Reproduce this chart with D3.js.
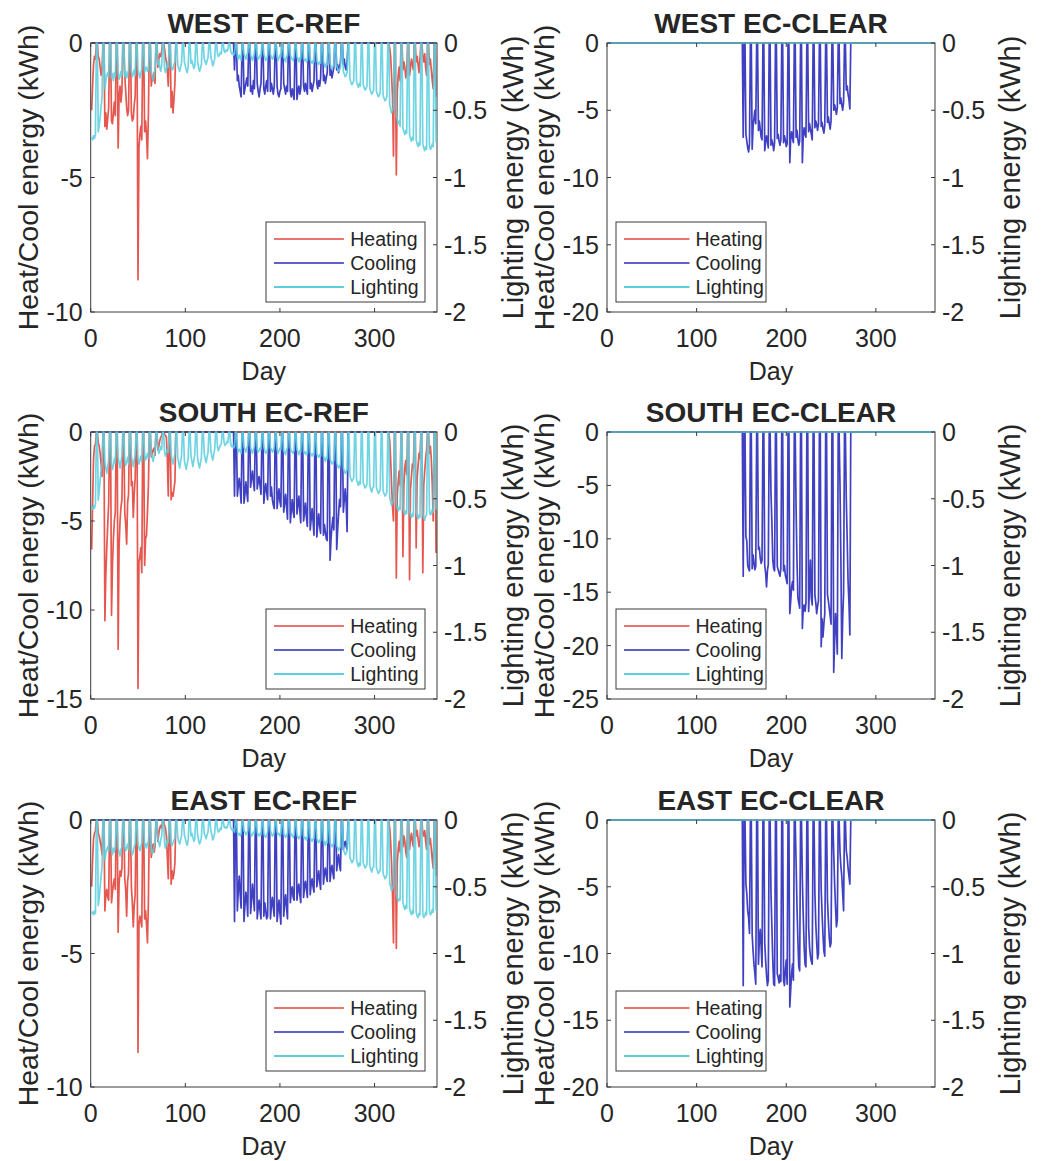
<!DOCTYPE html>
<html><head><meta charset="utf-8">
<script src="https://cdn.jsdelivr.net/npm/d3@7"></script>
<style>
body{margin:0;background:#fff}
svg{display:block}
text{font-family:"Liberation Sans",Arial,Helvetica,sans-serif;fill:#262626}
</style>
</head><body>
<svg id="chart" width="1055" height="1161"></svg>
<script>
// ---------------- DATA (daily values, weekly rows Mon..Sun, weekend = 0) ----------------
const xTicks = [0, 100, 200, 300];
const rightTicks = [0, -0.5, -1, -1.5, -2];
const rightTickLabels = ["0", "-0.5", "-1", "-1.5", "-2"];
const seriesNames = ["Heating", "Cooling", "Lighting"];

// WEST EC-REF
const westRefHeatWinter = [ // days 1-91
-2.5,-1.6,-0.8,-0.5,-0.6,0,0, -0.5,-0.6,-0.9,-1.2,-1.0,0,0, -3.1,-2.6,-3.2,-2.8,-2.4,0,0,
-2.9,-3.0,-2.6,-2.2,-2.7,0,0, -3.9,-2.0,-1.6,-2.2,-1.8,0,0, -1.2,-1.8,-2.4,-2.7,-2.5,0,0,
-2.6,-2.9,-2.8,-2.3,-2.0,0,0, -8.8,-3.9,-3.4,-3.1,-3.6,0,0, -3.3,-2.9,-3.4,-4.3,-2.6,0,0,
-1.6,-1.2,-1.4,-1.1,-1.5,0,0, -0.9,-0.6,-0.4,-0.5,-0.3,0,0, -0.2,-0.5,-0.7,-1.0,-1.6,0,0,
-2.4,-1.8,-2.6,-2.1,-1.5,0,0];
const westRefHeatAutumn = [ // days 316-365
-0.2,-0.5,-1.2,-2.0,-4.2,0,0, -4.9,-1.8,-1.2,-0.9,-1.4,0,0, -1.0,-0.7,-0.9,-1.3,-1.1,0,0,
-1.2,-0.9,-0.6,-0.8,-1.0,0,0, -0.7,-0.5,-0.8,-1.1,-0.6,0,0, -0.5,-0.7,-0.4,-0.9,-1.2,0,0,
-0.8,-0.6,-1.0,-1.4,-1.7,0,0, -2.0];
const westRefCool = [ // days 148-273
0,0,0,0,-1.0,0,0, -1.4,-1.2,-1.6,-1.8,-2.0,0,0, -1.9,-1.7,-1.5,-1.3,-1.6,0,0,
-1.8,-1.6,-1.9,-1.4,-1.7,0,0, -1.5,-1.8,-2.0,-1.7,-1.5,0,0, -1.7,-1.9,-1.6,-1.4,-1.8,0,0,
-1.8,-1.5,-1.7,-1.9,-1.6,0,0, -1.6,-1.9,-2.0,-1.8,-1.7,0,0, -1.5,-1.7,-1.9,-1.6,-1.8,0,0,
-1.8,-2.0,-1.7,-1.9,-2.1,0,0, -2.1,-1.8,-1.6,-1.9,-1.7,0,0, -1.6,-1.8,-1.5,-1.7,-1.9,0,0,
-1.7,-1.5,-1.8,-1.6,-1.4,0,0, -1.5,-1.7,-1.4,-1.6,-1.3,0,0, -1.4,-1.2,-1.5,-1.3,-1.1,0,0,
-1.2,-1.0,-1.3,-1.1,-0.9,0,0, -1.0,-0.8,-1.1,-0.9,-0.7,0,0, -0.8,-0.6,-0.9,-1.0,-0.7,0,0];
const westRefLight = [ // days 1-365 (right axis)
-0.70,-0.72,-0.69,-0.71,-0.68,0,0, -0.66,-0.61,-0.55,-0.47,-0.40,0,0, -0.34,-0.28,-0.24,-0.22,-0.25,0,0,
-0.26,-0.23,-0.28,-0.22,-0.25,0,0, -0.22,-0.27,-0.25,-0.21,-0.24,0,0, -0.25,-0.21,-0.26,-0.23,-0.20,0,0,
-0.21,-0.25,-0.23,-0.20,-0.24,0,0, -0.20,-0.23,-0.26,-0.22,-0.19,0,0, -0.22,-0.19,-0.18,-0.21,-0.20,0,0,
-0.21,-0.25,-0.28,-0.24,-0.19,0,0, -0.16,-0.13,-0.18,-0.21,-0.17,0,0, -0.18,-0.22,-0.20,-0.15,-0.18,0,0,
-0.17,-0.20,-0.19,-0.16,-0.14,0,0, -0.16,-0.19,-0.21,-0.18,-0.15,0,0, -0.14,-0.17,-0.20,-0.22,-0.18,0,0,
-0.15,-0.13,-0.16,-0.19,-0.17,0,0, -0.14,-0.18,-0.21,-0.19,-0.16,0,0, -0.12,-0.14,-0.16,-0.13,-0.11,0,0,
-0.10,-0.13,-0.17,-0.15,-0.12,0,0, -0.08,-0.10,-0.09,-0.07,-0.08,0,0, -0.06,-0.07,-0.05,-0.06,-0.05,0,0,
-0.06,-0.08,-0.07,-0.09,-0.08,0,0, -0.10,-0.12,-0.09,-0.11,-0.13,0,0, -0.08,-0.10,-0.12,-0.09,-0.07,0,0,
-0.09,-0.11,-0.13,-0.10,-0.08,0,0, -0.10,-0.12,-0.11,-0.09,-0.10,0,0, -0.08,-0.11,-0.13,-0.12,-0.09,0,0,
-0.09,-0.10,-0.12,-0.11,-0.08,0,0, -0.10,-0.13,-0.11,-0.09,-0.10,0,0, -0.11,-0.12,-0.14,-0.10,-0.09,0,0,
-0.09,-0.11,-0.12,-0.13,-0.10,0,0, -0.10,-0.12,-0.14,-0.11,-0.12,0,0, -0.11,-0.13,-0.12,-0.14,-0.13,0,0,
-0.12,-0.14,-0.15,-0.13,-0.14,0,0, -0.13,-0.15,-0.16,-0.14,-0.15,0,0, -0.14,-0.16,-0.18,-0.15,-0.16,0,0,
-0.15,-0.17,-0.19,-0.18,-0.16,0,0, -0.17,-0.19,-0.21,-0.20,-0.18,0,0, -0.21,-0.23,-0.25,-0.24,-0.22,0,0,
-0.27,-0.29,-0.31,-0.30,-0.28,0,0, -0.29,-0.31,-0.33,-0.30,-0.32,0,0, -0.31,-0.33,-0.35,-0.34,-0.32,0,0,
-0.34,-0.36,-0.38,-0.37,-0.35,0,0, -0.36,-0.38,-0.40,-0.39,-0.37,0,0, -0.39,-0.41,-0.43,-0.42,-0.40,0,0,
-0.46,-0.49,-0.52,-0.50,-0.48,0,0, -0.54,-0.57,-0.60,-0.58,-0.62,0,0, -0.63,-0.66,-0.68,-0.65,-0.67,0,0,
-0.68,-0.71,-0.73,-0.70,-0.72,0,0, -0.72,-0.75,-0.77,-0.74,-0.76,0,0, -0.75,-0.78,-0.80,-0.77,-0.79,0,0,
-0.76,-0.79,-0.78,-0.75,-0.77,0,0, -0.74];

// SOUTH EC-REF
const southRefHeatWinter = [ // days 1-91
-6.6,-4.0,-1.5,-0.8,-0.7,0,0, -0.6,-0.8,-1.2,-1.8,-2.5,0,0, -10.6,-8.0,-6.5,-5.2,-4.0,0,0,
-10.3,-7.5,-6.0,-5.0,-4.5,0,0, -12.2,-6.5,-5.0,-4.2,-3.8,0,0, -4.5,-5.2,-6.3,-4.0,-3.5,0,0,
-3.0,-2.8,-4.8,-3.5,-2.6,0,0, -14.4,-7.3,-7.0,-6.5,-7.9,0,0, -7.5,-6.0,-5.8,-4.5,-3.0,0,0,
-1.4,-1.2,-1.0,-0.9,-1.3,0,0, -1.0,-0.8,-0.5,-0.3,-0.2,0,0, -0.1,-0.2,-0.3,-1.5,-3.6,0,0,
-3.8,-3.4,-3.6,-3.2,-2.8,0,0];
const southRefHeatAutumn = [ // days 316-365
-0.5,-1.5,-3.0,-4.2,-5.0,0,0, -8.2,-3.5,-2.8,-2.2,-3.0,0,0, -7.0,-3.0,-2.0,-1.6,-2.4,0,0,
-8.3,-3.2,-2.5,-1.8,-2.0,0,0, -6.5,-2.6,-1.9,-1.2,-1.5,0,0, -7.9,-3.0,-2.2,-1.5,-1.0,0,0,
-1.2,-0.8,-1.5,-3.0,-5.0,0,0, -6.8];
const southRefCool = [ // days 148-273
0,0,0,0,-3.6,0,0, -3.6,-3.0,-2.6,-3.2,-4.0,0,0, -4.0,-3.5,-2.8,-3.4,-3.9,0,0,
-3.1,-2.6,-2.2,-2.8,-3.3,0,0, -3.2,-2.8,-2.5,-3.0,-3.5,0,0, -4.0,-3.3,-2.9,-3.4,-3.8,0,0,
-3.6,-3.1,-3.8,-4.1,-4.3,0,0, -4.3,-3.7,-3.2,-3.9,-4.2,0,0, -4.5,-4.0,-3.5,-4.2,-4.9,0,0,
-5.1,-4.4,-3.8,-4.5,-4.8,0,0, -4.6,-4.1,-3.6,-4.4,-5.1,0,0, -5.0,-4.5,-4.0,-4.8,-5.3,0,0,
-5.5,-4.9,-4.3,-5.0,-5.8,0,0, -5.9,-5.2,-4.6,-5.3,-5.7,0,0, -5.8,-5.2,-5.6,-6.0,-6.1,0,0,
-7.2,-6.0,-5.3,-4.8,-5.5,0,0, -6.6,-5.5,-4.6,-3.8,-4.2,0,0, -4.5,-3.8,-3.2,-4.0,-5.6,0,0];
const southRefLight = [ // days 1-365 (right axis)
-0.56,-0.58,-0.55,-0.57,-0.54,0,0, -0.51,-0.44,-0.36,-0.29,-0.25,0,0, -0.22,-0.27,-0.31,-0.26,-0.21,0,0,
-0.24,-0.28,-0.25,-0.20,-0.23,0,0, -0.19,-0.23,-0.27,-0.22,-0.18,0,0, -0.21,-0.25,-0.22,-0.19,-0.24,0,0,
-0.18,-0.22,-0.26,-0.21,-0.17,0,0, -0.20,-0.24,-0.21,-0.18,-0.22,0,0, -0.17,-0.21,-0.19,-0.16,-0.20,0,0,
-0.15,-0.19,-0.22,-0.18,-0.14,0,0, -0.12,-0.16,-0.14,-0.11,-0.13,0,0, -0.14,-0.18,-0.16,-0.13,-0.15,0,0,
-0.17,-0.21,-0.24,-0.20,-0.16,0,0, -0.19,-0.23,-0.27,-0.22,-0.18,0,0, -0.21,-0.25,-0.28,-0.24,-0.20,0,0,
-0.18,-0.22,-0.26,-0.21,-0.17,0,0, -0.20,-0.24,-0.27,-0.23,-0.19,0,0, -0.16,-0.20,-0.23,-0.19,-0.15,0,0,
-0.14,-0.18,-0.21,-0.17,-0.13,0,0, -0.11,-0.14,-0.12,-0.10,-0.09,0,0, -0.08,-0.10,-0.09,-0.07,-0.08,0,0,
-0.09,-0.11,-0.10,-0.12,-0.11,0,0, -0.12,-0.15,-0.13,-0.14,-0.16,0,0, -0.11,-0.13,-0.15,-0.12,-0.10,0,0,
-0.12,-0.14,-0.16,-0.13,-0.11,0,0, -0.13,-0.15,-0.14,-0.12,-0.13,0,0, -0.11,-0.14,-0.16,-0.15,-0.12,0,0,
-0.12,-0.13,-0.15,-0.14,-0.11,0,0, -0.13,-0.16,-0.14,-0.12,-0.13,0,0, -0.14,-0.15,-0.17,-0.13,-0.12,0,0,
-0.12,-0.14,-0.15,-0.16,-0.13,0,0, -0.13,-0.15,-0.17,-0.14,-0.15,0,0, -0.14,-0.16,-0.15,-0.17,-0.16,0,0,
-0.15,-0.17,-0.18,-0.16,-0.17,0,0, -0.16,-0.18,-0.19,-0.17,-0.18,0,0, -0.18,-0.20,-0.22,-0.19,-0.20,0,0,
-0.20,-0.22,-0.24,-0.23,-0.21,0,0, -0.23,-0.25,-0.27,-0.26,-0.24,0,0, -0.27,-0.29,-0.31,-0.30,-0.28,0,0,
-0.33,-0.35,-0.37,-0.36,-0.34,0,0, -0.36,-0.38,-0.40,-0.37,-0.39,0,0, -0.38,-0.40,-0.42,-0.41,-0.39,0,0,
-0.40,-0.43,-0.45,-0.42,-0.41,0,0, -0.42,-0.44,-0.46,-0.45,-0.43,0,0, -0.44,-0.46,-0.48,-0.47,-0.45,0,0,
-0.49,-0.52,-0.55,-0.53,-0.51,0,0, -0.54,-0.57,-0.59,-0.56,-0.58,0,0, -0.57,-0.60,-0.62,-0.59,-0.61,0,0,
-0.59,-0.62,-0.64,-0.61,-0.63,0,0, -0.60,-0.63,-0.65,-0.62,-0.64,0,0, -0.61,-0.64,-0.66,-0.63,-0.62,0,0,
-0.59,-0.62,-0.61,-0.58,-0.60,0,0, -0.58];

// EAST EC-REF
const eastRefHeatWinter = [ // days 1-91
-2.5,-1.5,-0.7,-0.5,-0.4,0,0, -0.5,-0.6,-0.8,-1.0,-1.3,0,0, -3.4,-2.8,-2.6,-2.9,-3.0,0,0,
-3.1,-2.7,-2.4,-2.2,-2.6,0,0, -4.2,-2.4,-1.9,-2.1,-1.8,0,0, -2.2,-2.6,-3.6,-2.3,-2.0,0,0,
-2.5,-3.1,-4.0,-3.2,-2.8,0,0, -8.7,-3.9,-3.6,-3.8,-4.0,0,0, -3.7,-3.4,-3.9,-4.6,-3.0,0,0,
-1.4,-1.1,-0.9,-1.2,-1.0,0,0, -0.8,-0.5,-0.3,-0.2,-0.3,0,0, -0.2,-0.3,-0.6,-1.4,-2.2,0,0,
-2.4,-1.9,-2.2,-2.0,-1.6,0,0];
const eastRefHeatAutumn = [ // days 316-365
-0.3,-0.8,-1.6,-2.8,-4.6,0,0, -4.8,-1.6,-1.1,-0.8,-1.2,0,0, -1.0,-0.6,-0.8,-1.2,-1.4,0,0,
-1.1,-0.7,-0.5,-0.8,-1.0,0,0, -0.6,-0.4,-0.7,-1.0,-0.8,0,0, -0.5,-0.6,-0.4,-0.8,-1.1,0,0,
-0.9,-0.7,-1.1,-1.5,-1.8,0,0, -2.1];
const eastRefCool = [ // days 148-273
0,0,0,0,-3.8,0,0, -3.4,-2.6,-2.1,-2.8,-3.3,0,0, -3.8,-3.2,-2.7,-3.0,-3.6,0,0,
-3.5,-3.0,-2.4,-2.9,-3.4,0,0, -3.7,-3.3,-3.0,-3.4,-3.7,0,0, -3.6,-3.1,-3.4,-3.7,-3.6,0,0,
-3.7,-3.2,-2.9,-3.3,-3.6,0,0, -3.8,-3.4,-3.0,-3.5,-3.9,0,0, -3.6,-3.1,-2.8,-3.3,-3.7,0,0,
-3.1,-2.7,-2.5,-2.9,-3.0,0,0, -3.0,-2.6,-2.4,-2.8,-3.1,0,0, -2.9,-2.5,-2.3,-2.6,-2.9,0,0,
-2.8,-2.4,-2.2,-2.5,-2.7,0,0, -2.5,-2.2,-1.9,-2.3,-2.6,0,0, -2.4,-2.0,-1.8,-2.1,-2.3,0,0,
-2.3,-1.9,-1.7,-2.0,-2.2,0,0, -1.9,-1.5,-1.3,-1.7,-1.9,0,0, -1.1,-0.9,-0.8,-1.0,-1.1,0,0];
const eastRefLight = [ // days 1-365 (right axis)
-0.70,-0.69,-0.71,-0.68,-0.70,0,0, -0.64,-0.58,-0.50,-0.42,-0.35,0,0, -0.30,-0.25,-0.22,-0.20,-0.23,0,0,
-0.23,-0.26,-0.21,-0.24,-0.20,0,0, -0.21,-0.24,-0.27,-0.22,-0.20,0,0, -0.20,-0.23,-0.21,-0.18,-0.22,0,0,
-0.23,-0.26,-0.24,-0.20,-0.18,0,0, -0.18,-0.21,-0.23,-0.20,-0.17,0,0, -0.20,-0.18,-0.21,-0.17,-0.18,0,0,
-0.21,-0.25,-0.24,-0.20,-0.17,0,0, -0.14,-0.17,-0.20,-0.15,-0.12,0,0, -0.17,-0.21,-0.18,-0.15,-0.17,0,0,
-0.18,-0.19,-0.17,-0.15,-0.14,0,0, -0.13,-0.16,-0.18,-0.15,-0.12,0,0, -0.11,-0.14,-0.17,-0.19,-0.15,0,0,
-0.12,-0.10,-0.13,-0.16,-0.14,0,0, -0.11,-0.15,-0.18,-0.16,-0.13,0,0, -0.10,-0.12,-0.14,-0.11,-0.09,0,0,
-0.08,-0.11,-0.15,-0.13,-0.10,0,0, -0.07,-0.09,-0.08,-0.06,-0.07,0,0, -0.05,-0.06,-0.05,-0.06,-0.04,0,0,
-0.06,-0.07,-0.08,-0.07,-0.09,0,0, -0.09,-0.11,-0.10,-0.12,-0.10,0,0, -0.08,-0.09,-0.11,-0.10,-0.08,0,0,
-0.10,-0.12,-0.11,-0.09,-0.10,0,0, -0.09,-0.11,-0.12,-0.10,-0.11,0,0, -0.10,-0.12,-0.13,-0.11,-0.09,0,0,
-0.08,-0.10,-0.12,-0.11,-0.09,0,0, -0.09,-0.11,-0.10,-0.12,-0.10,0,0, -0.10,-0.12,-0.13,-0.11,-0.10,0,0,
-0.11,-0.10,-0.12,-0.13,-0.11,0,0, -0.11,-0.13,-0.14,-0.12,-0.12,0,0, -0.12,-0.14,-0.13,-0.15,-0.13,0,0,
-0.13,-0.15,-0.16,-0.14,-0.14,0,0, -0.14,-0.16,-0.17,-0.15,-0.16,0,0, -0.15,-0.17,-0.19,-0.16,-0.17,0,0,
-0.17,-0.19,-0.20,-0.18,-0.18,0,0, -0.19,-0.21,-0.23,-0.21,-0.20,0,0, -0.22,-0.24,-0.26,-0.25,-0.23,0,0,
-0.28,-0.30,-0.32,-0.31,-0.29,0,0, -0.30,-0.33,-0.35,-0.32,-0.34,0,0, -0.32,-0.34,-0.36,-0.35,-0.33,0,0,
-0.34,-0.37,-0.39,-0.36,-0.35,0,0, -0.36,-0.38,-0.40,-0.39,-0.37,0,0, -0.40,-0.42,-0.44,-0.43,-0.41,0,0,
-0.47,-0.50,-0.53,-0.51,-0.49,0,0, -0.55,-0.58,-0.61,-0.59,-0.60,0,0, -0.62,-0.65,-0.67,-0.64,-0.66,0,0,
-0.66,-0.69,-0.71,-0.68,-0.70,0,0, -0.69,-0.72,-0.73,-0.70,-0.71,0,0, -0.70,-0.73,-0.72,-0.69,-0.71,0,0,
-0.68,-0.71,-0.70,-0.67,-0.69,0,0, -0.68];

// EC-CLEAR cases: heating and lighting are zero all year; cooling days 148-273
const westClearCool = [
0,0,0,0,-7.0,0,0, -6.8,-7.3,-7.8,-8.1,-7.5,0,0, -7.9,-6.2,-5.6,-5.0,-6.0,0,0,
-6.5,-5.8,-6.4,-7.0,-7.2,0,0, -8.0,-7.4,-6.9,-7.3,-7.8,0,0, -7.6,-7.2,-7.5,-8.0,-7.4,0,0,
-7.1,-6.8,-7.3,-7.6,-7.2,0,0, -7.4,-6.9,-7.2,-7.7,-7.5,0,0, -8.9,-7.0,-6.6,-7.1,-7.4,0,0,
-7.0,-6.5,-7.2,-7.6,-7.3,0,0, -8.9,-6.9,-6.3,-6.8,-7.0,0,0, -6.6,-6.0,-6.4,-6.8,-7.2,0,0,
-6.3,-5.8,-6.1,-6.5,-6.0,0,0, -6.2,-5.9,-6.4,-6.7,-6.1,0,0, -5.9,-5.5,-6.0,-6.4,-5.8,0,0,
-5.0,-4.6,-4.9,-5.3,-4.8,0,0, -4.5,-4.1,-4.6,-5.0,-4.4,0,0, -3.5,-3.2,-3.8,-4.2,-4.9,0,0];
const southClearCool = [
0,0,0,0,-13.5,0,0, -9.8,-10.2,-12.5,-12.8,-13.0,0,0, -12.8,-11.5,-12.2,-12.9,-12.6,0,0,
-11.0,-10.8,-11.8,-12.3,-12.0,0,0, -12.5,-13.2,-14.5,-13.0,-12.4,0,0, -5.8,-8.5,-12.0,-12.8,-13.0,0,0,
-12.6,-12.9,-13.2,-13.5,-12.8,0,0, -13.0,-12.5,-13.4,-13.8,-14.2,0,0, -17.0,-15.8,-14.5,-14.0,-14.8,0,0,
-7.2,-12.0,-15.5,-16.0,-16.5,0,0, -18.4,-16.5,-16.2,-16.8,-16.0,0,0, -16.8,-14.5,-12.0,-15.5,-16.2,0,0,
-15.3,-16.0,-17.0,-16.3,-15.8,0,0, -20.1,-17.5,-19.2,-18.0,-17.0,0,0, -15.2,-15.8,-16.5,-17.2,-18.0,0,0,
-22.5,-19.5,-17.0,-18.5,-20.8,0,0, -5.0,-12.0,-21.2,-17.5,-15.0,0,0, -6.2,-10.0,-14.0,-16.0,-19.0,0,0];
const eastClearCool = [
0,0,0,0,-12.4,0,0, -4.8,-5.5,-6.8,-7.3,-8.5,0,0, -8.6,-9.8,-10.8,-11.5,-12.3,0,0,
-10.8,-9.0,-8.2,-9.5,-11.0,0,0, -9.2,-10.5,-11.6,-12.4,-12.0,0,0, -5.5,-8.0,-10.5,-12.3,-12.4,0,0,
-11.5,-11.8,-12.2,-11.6,-12.1,0,0, -12.0,-12.4,-11.2,-10.5,-12.3,0,0, -14.0,-12.7,-11.5,-10.8,-12.0,0,0,
-3.2,-6.5,-9.0,-11.0,-11.3,0,0, -4.5,-7.2,-9.5,-10.8,-11.0,0,0, -8.0,-9.5,-10.2,-10.6,-10.8,0,0,
-5.5,-7.8,-9.2,-10.4,-10.0,0,0, -5.2,-7.0,-8.6,-9.8,-10.2,0,0, -6.0,-7.5,-8.8,-9.5,-9.2,0,0,
-2.5,-4.8,-6.5,-8.0,-7.5,0,0, -2.4,-3.5,-4.2,-5.5,-6.8,0,0, -2.3,-2.8,-3.6,-4.2,-4.8,0,0];

// ---------------- BUILD ----------------
const NDAYS = 365;
function yearSeries(segments) {
  const v = new Array(NDAYS).fill(0);
  segments.forEach(([start, arr]) => arr.forEach((x, i) => { v[start - 1 + i] = x; }));
  return v.map((value, i) => ({day: i + 1, value}));
}

const colors = {Heating: "#e2453c", Cooling: "#2b2bbb", Lighting: "#5ccfdf"};
const cols = [{x0: 90.7, x1: 437}, {x0: 607, x1: 935}];
const rows = [{y0: 43, y1: 312, legOff: 10}, {y0: 432, y1: 699, legOff: 10}, {y0: 820, y1: 1087, legOff: 16}];

const panels = [
  {title: "WEST EC-REF", row: 0, col: 0, ymin: -10, ticks: [0,-5,-10], ref: true,
   heat: yearSeries([[1, westRefHeatWinter],[316, westRefHeatAutumn]]), cool: yearSeries([[148, westRefCool]]), light: yearSeries([[1, westRefLight]])},
  {title: "WEST EC-CLEAR", row: 0, col: 1, ymin: -20, ticks: [0,-5,-10,-15,-20], ref: false,
   heat: yearSeries([]), cool: yearSeries([[148, westClearCool]]), light: yearSeries([])},
  {title: "SOUTH EC-REF", row: 1, col: 0, ymin: -15, ticks: [0,-5,-10,-15], ref: true,
   heat: yearSeries([[1, southRefHeatWinter],[316, southRefHeatAutumn]]), cool: yearSeries([[148, southRefCool]]), light: yearSeries([[1, southRefLight]])},
  {title: "SOUTH EC-CLEAR", row: 1, col: 1, ymin: -25, ticks: [0,-5,-10,-15,-20,-25], ref: false,
   heat: yearSeries([]), cool: yearSeries([[148, southClearCool]]), light: yearSeries([])},
  {title: "EAST EC-REF", row: 2, col: 0, ymin: -10, ticks: [0,-5,-10], ref: true,
   heat: yearSeries([[1, eastRefHeatWinter],[316, eastRefHeatAutumn]]), cool: yearSeries([[148, eastRefCool]]), light: yearSeries([[1, eastRefLight]])},
  {title: "EAST EC-CLEAR", row: 2, col: 1, ymin: -20, ticks: [0,-5,-10,-15,-20], ref: false,
   heat: yearSeries([]), cool: yearSeries([[148, eastClearCool]]), light: yearSeries([])}
];

const svg = d3.select("#chart");
const axisColor = "#3a3a3a";
const TICK = 4;
const LW = 1.7;

panels.forEach(p => {
  const c = cols[p.col], r = rows[p.row];
  const x = d3.scaleLinear().domain([0, 366]).range([c.x0, c.x1]);
  const yL = d3.scaleLinear().domain([p.ymin, 0]).range([r.y1, r.y0]);
  const yR = d3.scaleLinear().domain([-2, 0]).range([r.y1, r.y0]);
  const g = svg.append("g");

  const lineL = d3.line().x(d => x(d.day)).y(d => yL(d.value));
  const lineR = d3.line().x(d => x(d.day)).y(d => yR(d.value));

  // heating & cooling on left axis
  g.append("path").datum(p.heat).attr("d", lineL).attr("fill", "none")
    .attr("stroke", colors.Heating).attr("stroke-width", LW).attr("stroke-linejoin", "round").attr("opacity", 0.9);
  g.append("path").datum(p.cool).attr("d", lineL).attr("fill", "none")
    .attr("stroke", colors.Cooling).attr("stroke-width", LW).attr("stroke-linejoin", "round").attr("opacity", 0.9);

  // axes box
  g.append("rect").attr("x", c.x0).attr("y", r.y0).attr("width", c.x1 - c.x0).attr("height", r.y1 - r.y0)
    .attr("fill", "none").attr("stroke", axisColor).attr("stroke-width", 1);

  // lighting on right axis (drawn on top)
  g.append("path").datum(p.light).attr("d", lineR).attr("fill", "none")
    .attr("stroke", colors.Lighting).attr("stroke-width", LW).attr("stroke-linejoin", "round").attr("opacity", 0.88);

  // x ticks (bottom + top, inward)
  xTicks.forEach(t => {
    g.append("line").attr("x1", x(t)).attr("x2", x(t)).attr("y1", r.y1).attr("y2", r.y1 - TICK).attr("stroke", axisColor);
    g.append("line").attr("x1", x(t)).attr("x2", x(t)).attr("y1", r.y0).attr("y2", r.y0 + TICK).attr("stroke", axisColor);
    g.append("text").attr("x", x(t)).attr("y", r.y1 + 35).attr("text-anchor", "middle")
      .attr("font-size", 25).text(String(t));
  });
  // left ticks
  p.ticks.forEach(t => {
    g.append("line").attr("x1", c.x0).attr("x2", c.x0 + TICK).attr("y1", yL(t)).attr("y2", yL(t)).attr("stroke", axisColor);
    g.append("text").attr("x", c.x0 - 8).attr("y", yL(t) + 9).attr("text-anchor", "end")
      .attr("font-size", 25).text(String(t));
  });
  // right ticks
  rightTicks.forEach((t, i) => {
    g.append("line").attr("x1", c.x1).attr("x2", c.x1 - TICK).attr("y1", yR(t)).attr("y2", yR(t)).attr("stroke", axisColor);
    g.append("text").attr("x", c.x1 + 7).attr("y", yR(t) + 9).attr("text-anchor", "start")
      .attr("font-size", 25).text(rightTickLabels[i]);
  });

  // title
  g.append("text").attr("x", (c.x0 + c.x1) / 2).attr("y", r.y0 - 10).attr("text-anchor", "middle")
    .attr("font-size", 28).attr("font-weight", "bold").attr("fill", "#111").text(p.title);
  // x label
  g.append("text").attr("x", (c.x0 + c.x1) / 2).attr("y", r.y1 + 68).attr("text-anchor", "middle")
    .attr("font-size", 25).text("Day");
  // y labels
  const ymid = (r.y0 + r.y1) / 2;
  const leftLabX = p.col === 0 ? 38 : 554;
  const rightLabX = p.col === 0 ? 523 : 1020;
  g.append("text").attr("transform", `translate(${leftLabX},${ymid}) rotate(-90)`).attr("text-anchor", "middle")
    .attr("font-size", 28.5).text("Heat/Cool energy (kWh)");
  g.append("text").attr("transform", `translate(${rightLabX},${ymid}) rotate(-90)`).attr("text-anchor", "middle")
    .attr("font-size", 29).text("Lighting energy (kWh)");

  // legend
  const lw = p.ref ? 159 : 150, lh = 80;
  const lx = p.ref ? c.x1 - 12 - lw : c.x0 + 9;
  const ly = r.y1 - r.legOff - lh;
  const lg = g.append("g").attr("transform", `translate(${lx},${ly})`);
  lg.append("rect").attr("width", lw).attr("height", lh).attr("fill", "#fff").attr("stroke", axisColor).attr("stroke-width", 1);
  seriesNames.forEach((n, i) => {
    const yy = 17 + i * 24;
    lg.append("line").attr("x1", 8).attr("x2", lw * 0.49).attr("y1", yy).attr("y2", yy)
      .attr("stroke", colors[n]).attr("stroke-width", n === "Lighting" ? 2 : 1.3);
    lg.append("text").attr("x", lw * 0.53).attr("y", yy + 7).attr("font-size", 19.5).text(n);
  });
});
</script>
</body></html>
